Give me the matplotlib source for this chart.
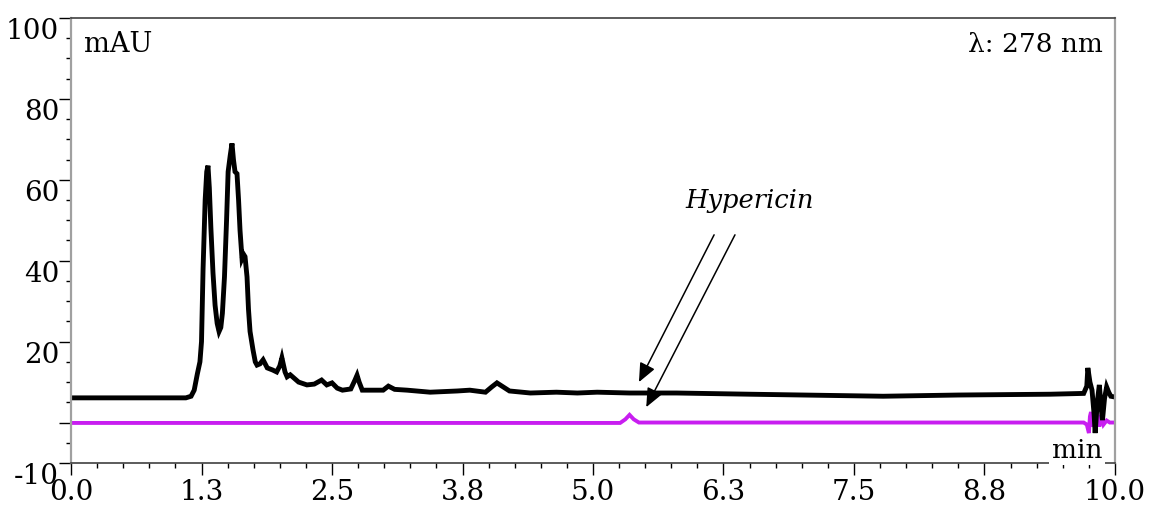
import numpy as np
import matplotlib.pyplot as plt
from matplotlib.ticker import MultipleLocator

plt.rcParams['font.family'] = ['DejaVu Serif']

# sample trace (black)
t_sample = [0.0, 1.10, 1.15, 1.18, 1.21, 1.235, 1.25, 1.265, 1.285, 1.30, 1.312,
            1.325, 1.34, 1.36, 1.38, 1.40, 1.418, 1.435, 1.45, 1.47, 1.49, 1.505,
            1.525, 1.542, 1.556, 1.571, 1.590, 1.605, 1.619, 1.638, 1.655, 1.667,
            1.686, 1.70, 1.715, 1.743, 1.765, 1.782, 1.81, 1.84, 1.88, 1.93,
            1.97, 2.00, 2.02, 2.05, 2.07, 2.10, 2.18, 2.26, 2.33, 2.40, 2.45,
            2.50, 2.55, 2.60, 2.68, 2.72, 2.74, 2.76, 2.79, 2.99, 3.04, 3.10,
            3.22, 3.44, 3.70, 3.82, 3.97, 4.03, 4.08, 4.14, 4.20, 4.40, 4.65,
            4.85, 5.04, 5.35, 5.80, 6.50, 7.78, 8.50, 9.38, 9.70, 9.73, 9.74,
            9.76, 9.78, 9.80, 9.81, 9.83, 9.85, 9.87, 9.88, 9.90, 9.92, 9.94,
            9.96, 10.0]
y_sample = [6.1, 6.1, 6.5, 8.0, 12.0, 15.0, 20.0, 38.0, 55.0, 62.0, 63.5,
            58.0, 48.0, 37.0, 29.0, 24.5, 22.5, 23.5, 27.0, 36.0, 50.0, 62.0,
            66.0, 69.0, 65.0, 62.0, 61.5, 55.0, 47.5, 40.5, 41.5, 41.0,
            36.0, 28.0, 22.5, 18.0, 15.0, 14.2, 14.5, 15.5, 13.5, 13.0,
            12.5, 14.0, 16.0, 12.5, 11.3, 11.8, 10.0, 9.3, 9.5, 10.5, 9.3,
            9.8, 8.5, 8.0, 8.3, 10.5, 11.7, 10.0, 8.0, 8.0, 9.0, 8.2,
            8.0, 7.5, 7.8, 8.0, 7.5, 8.8, 9.8, 8.8, 7.8, 7.3, 7.5,
            7.3, 7.5, 7.3, 7.3, 7.0, 6.5, 6.8, 7.0, 7.2, 9.0, 13.5,
            10.0, 8.0, 2.0, -2.6, 5.0, 9.3, 3.0, 0.6, 6.0, 8.8, 7.5,
            6.5, 6.3]

# standard trace (magenta)
t_std = [0.0, 5.26, 5.31, 5.35, 5.39, 5.44, 9.70, 9.73, 9.75, 9.76, 9.77,
         9.79, 9.81, 9.83, 9.85, 9.87, 9.89, 9.92, 9.95, 10.0]
y_std = [-0.1, -0.1, 0.8, 1.9, 0.8, 0.0, 0.0, -0.5, -2.6, 1.5, 2.6,
         -1.0, 0.5, 2.3, -1.0, 1.8, -0.5, 0.5, 0.0, 0.0]

xticks = [0.0, 1.25, 2.5, 3.75, 5.0, 6.25, 7.5, 8.75, 10.0]
xtick_labels = ['0.0', '1.3', '2.5', '3.8', '5.0', '6.3', '7.5', '8.8', '10.0']
yticks = [-10, 0, 20, 40, 60, 80, 100]
ytick_labels = ['-10', '', '20', '40', '60', '80', '100']

fig = plt.figure(figsize=(11.49, 5.08), dpi=100)
ax = fig.add_axes([0.0618, 0.0886, 0.9086, 0.876])

ax.plot(t_std, y_std, color='#C81EF0', lw=2.8, solid_joinstyle='miter')
ax.plot(t_sample, y_sample, color='black', lw=3.5, solid_joinstyle='miter')

ax.set_xlim(0, 10)
ax.set_ylim(-10, 100)
ax.set_xticks(xticks)
ax.set_xticklabels(xtick_labels)
ax.set_yticks(yticks)
ax.set_yticklabels(ytick_labels)
ax.xaxis.set_minor_locator(MultipleLocator(0.25))
ax.yaxis.set_minor_locator(MultipleLocator(5))
ax.tick_params(which='major', length=8.5, width=1, labelsize=20, direction='out')
ax.tick_params(which='minor', length=3.6, width=1, direction='out')
ax.tick_params(axis='x', pad=3)
ax.tick_params(axis='y', pad=0)
for lab in ax.get_yticklabels():
    lab.set_verticalalignment('top')

for s in ['left', 'right']:
    ax.spines[s].set_color('#A0A0A0')
    ax.spines[s].set_linewidth(1.6)
for s in ['top', 'bottom']:
    ax.spines[s].set_color('#404040')
    ax.spines[s].set_linewidth(1.2)

ax.text(0.012, 0.94, 'mAU', transform=ax.transAxes, fontsize=19.5,
        ha='left', va='center')
ax.text(0.988, 0.94, 'λ: 278 nm', transform=ax.transAxes, fontsize=19,
        ha='right', va='center')
ax.text(9.88, -6.8, 'min', fontsize=19, ha='right', va='center', zorder=5,
        clip_on=False,
        bbox=dict(facecolor='white', edgecolor='none', pad=2))

ax.text(6.5, 55.0, 'Hypericin', fontsize=18.5, style='italic',
        ha='center', va='center')
arrow = dict(arrowstyle='-|>,head_length=1.15,head_width=0.5',
             color='black', lw=1.1, shrinkA=0, shrinkB=0)
ax.annotate('', xy=(5.44, 10.0), xytext=(6.16, 46.4), arrowprops=arrow)
ax.annotate('', xy=(5.51, 3.8), xytext=(6.36, 46.4), arrowprops=arrow)

plt.savefig('out.png', dpi=100)
